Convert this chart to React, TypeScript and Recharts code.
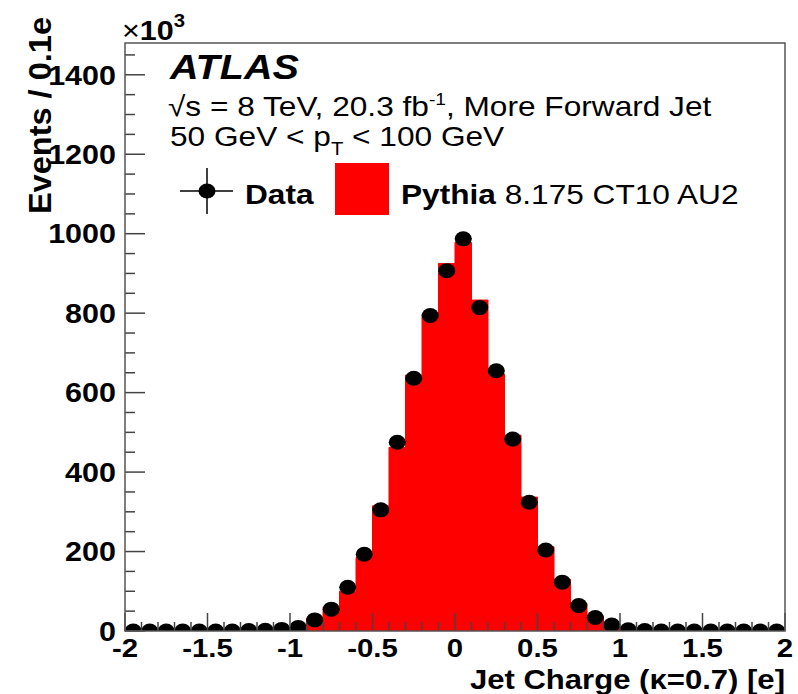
import React from 'react';
import { ComposedChart, Area, Scatter, XAxis, YAxis } from 'recharts';

// bin centres of the jet charge histogram (bin width 0.1 e)
const binCenters = [
  -1.95, -1.85, -1.75, -1.65, -1.55, -1.45, -1.35, -1.25, -1.15, -1.05,
  -0.95, -0.85, -0.75, -0.65, -0.55, -0.45, -0.35, -0.25, -0.15, -0.05,
  0.05, 0.15, 0.25, 0.35, 0.45, 0.55, 0.65, 0.75, 0.85, 0.95,
  1.05, 1.15, 1.25, 1.35, 1.45, 1.55, 1.65, 1.75, 1.85, 1.95,
];

// events / 0.1e, in units of 10^3
const dataCounts = [
  0, 0, 0, 0, 0, 0, 0, 1, 2, 4,
  9, 28, 55, 110, 193, 305, 475, 636, 794, 907,
  987, 814, 655, 483, 324, 204, 123, 64, 34, 15,
  3, 1, 0, 0, 0, 0, 0, 0, 0, 0,
];

const pythiaCounts = [
  0, 0, 0, 0, 0, 0, 0, 1, 2, 4,
  11, 32, 60, 100, 185, 315, 462, 644, 798, 925,
  978, 833, 647, 493, 337, 212, 130, 70, 37, 16,
  3, 1, 0, 0, 0, 0, 0, 0, 0, 0,
];

const xMajorTicks = [-2, -1.5, -1, -0.5, 0, 0.5, 1, 1.5, 2];
const xTickLabels = ['-2', '-1.5', '-1', '-0.5', '0', '0.5', '1', '1.5', '2'];
const yMajorTicks = [0, 200, 400, 600, 800, 1000, 1200, 1400];
const yTickLabels = ['0', '200', '400', '600', '800', '1000', '1200', '1400'];

const xMinorTicks = [...binCenters.map((c) => Math.round((c - 0.05) * 10) / 10), 2];
const yMinorTicks = Array.from({ length: 30 }, (_, i) => i * 50);

const rows = binCenters.map((x, i) => ({ x, data: dataCounts[i], mc: pythiaCounts[i] }));

const W = 798;
const H = 694;
const PLOT_LEFT = 125;
const PLOT_RIGHT = 785;
const PLOT_TOP = 43;
const PLOT_BOTTOM = 631;
const STRETCH = 1.13; // the reference is a bit wider than tall
const FONT = '"Liberation Sans", Arial, Helvetica, sans-serif';

const YTick = ({ y, payload }: any) => {
  const idx = yMajorTicks.findIndex((m) => Math.abs(m - payload.value) < 1e-6);
  const major = idx >= 0;
  return (
    <g>
      <line x1={PLOT_LEFT} x2={PLOT_LEFT + (major ? 20 : 10)} y1={y} y2={y} stroke="#444" strokeWidth={1.5} />
      {major && (
        <text
          transform={`translate(116,${y}) scale(${STRETCH},1)`}
          x={0}
          y={0}
          dy="0.36em"
          textAnchor="end"
          fontFamily={FONT}
          fontWeight="bold"
          fontSize={27}
          fill="#000"
        >
          {yTickLabels[idx]}
        </text>
      )}
    </g>
  );
};

const XTick = ({ x, payload }: any) => {
  const idx = xMajorTicks.findIndex((m) => Math.abs(m - payload.value) < 1e-6);
  const major = idx >= 0;
  return (
    <g>
      <line x1={x} x2={x} y1={PLOT_BOTTOM} y2={PLOT_BOTTOM - (major ? 18 : 9)} stroke="#444" strokeWidth={1.5} />
      {major && (
        <text
          transform={`translate(${x},657) scale(${STRETCH},1)`}
          x={0}
          y={0}
          textAnchor="middle"
          fontFamily={FONT}
          fontWeight="bold"
          fontSize={26}
          fill="#000"
        >
          {xTickLabels[idx]}
        </text>
      )}
    </g>
  );
};

// data point: black marker with horizontal bin-width bar
const DataPoint = ({ cx, cy }: any) => {
  if (cx == null || cy == null) return null;
  const half = ((PLOT_RIGHT - PLOT_LEFT) / 4) * 0.05;
  return (
    <g>
      <line x1={cx - half} x2={cx + half} y1={cy} y2={cy} stroke="#000" strokeWidth={1.5} />
      <ellipse cx={cx} cy={cy} rx={8.5} ry={7.5} fill="#000" />
    </g>
  );
};

const Stretched = ({ x, y, anchor = 'start', children, ...rest }: any) => (
  <text
    transform={`translate(${x},${y}) scale(${STRETCH},1)`}
    x={0}
    y={0}
    textAnchor={anchor}
    fontFamily={FONT}
    fill="#000"
    {...rest}
  >
    {children}
  </text>
);

export default function App() {
  return (
    <div style={{ position: 'absolute', left: 0, top: 0, width: W, height: H, background: '#fff' }}>
      <ComposedChart
        width={W}
        height={H}
        data={rows}
        margin={{ top: PLOT_TOP, right: W - PLOT_RIGHT, bottom: 0, left: 0 }}
      >
        <XAxis
          dataKey="x"
          type="number"
          domain={[-2, 2]}
          ticks={xMinorTicks}
          interval={0}
          height={H - PLOT_BOTTOM}
          axisLine={false}
          tickLine={false}
          tick={<XTick />}
          allowDataOverflow
        />
        <YAxis
          type="number"
          domain={[0, 1480]}
          ticks={yMinorTicks}
          interval={0}
          width={PLOT_LEFT}
          axisLine={false}
          tickLine={false}
          tick={<YTick />}
          allowDataOverflow
        />
        <Area
          type="step"
          dataKey="mc"
          name="Pythia 8.175 CT10 AU2"
          fill="#ff0000"
          fillOpacity={1}
          stroke="#ff0000"
          strokeWidth={1}
          isAnimationActive={false}
          dot={false}
          activeDot={false}
        />
        <Scatter dataKey="data" name="Data" fill="#000" shape={<DataPoint />} isAnimationActive={false} />
      </ComposedChart>

      <svg
        width={W}
        height={H}
        style={{ position: 'absolute', left: 0, top: 0, pointerEvents: 'none' }}
      >
        <rect
          x={PLOT_LEFT}
          y={PLOT_TOP}
          width={PLOT_RIGHT - PLOT_LEFT}
          height={PLOT_BOTTOM - PLOT_TOP}
          fill="none"
          stroke="#555"
          strokeWidth={1.5}
        />

        {/* axis titles */}
        <text
          transform="translate(51,17) rotate(-90) scale(1.05,1)"
          textAnchor="end"
          fontFamily={FONT}
          fontWeight="bold"
          fontSize={31}
          fill="#000"
        >
          Events / 0.1e
        </text>
        <Stretched x={785} y={689} anchor="end" fontWeight="bold" fontSize={27.5}>
          Jet Charge (κ=0.7) [e]
        </Stretched>
        <Stretched x={122} y={40} fontSize={27}>
          ×<tspan fontWeight="bold">10</tspan>
          <tspan dy={-13} fontSize={18} fontWeight="bold">3</tspan>
        </Stretched>

        {/* labels */}
        <Stretched x={170} y={79} fontWeight="bold" fontStyle="italic" fontSize={35}>
          ATLAS
        </Stretched>
        <Stretched x={168} y={116} fontSize={28}>
          √s = 8 TeV, 20.3 fb
          <tspan dy={-11} fontSize={17}>-1</tspan>
          <tspan dy={11}>, More Forward Jet</tspan>
        </Stretched>
        <Stretched x={170} y={146} fontSize={28}>
          50 GeV &lt; p
          <tspan dy={9} fontSize={18}>T</tspan>
          <tspan dy={-9}> &lt; 100 GeV</tspan>
        </Stretched>

        {/* legend */}
        <line x1={180} x2={233} y1={191} y2={191} stroke="#000" strokeWidth={1.5} />
        <line x1={207} x2={207} y1={168} y2={214} stroke="#000" strokeWidth={1.5} />
        <ellipse cx={207} cy={191} rx={8.5} ry={7.5} fill="#000" />
        <Stretched x={245} y={204} fontWeight="bold" fontSize={28}>
          Data
        </Stretched>
        <rect x={335} y={163} width={54} height={52} fill="#ff0000" />
        <Stretched x={401} y={204} fontSize={28}>
          <tspan fontWeight="bold">Pythia</tspan> 8.175 CT10 AU2
        </Stretched>
      </svg>
    </div>
  );
}
